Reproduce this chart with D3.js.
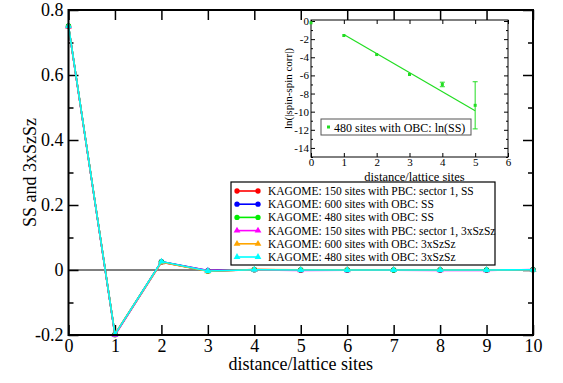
<!DOCTYPE html>
<html>
<head>
<meta charset="utf-8">
<script src="https://cdn.jsdelivr.net/npm/d3@7"></script>
<style>
  body { margin: 0; background: #fff; }
  svg text { font-family: "Liberation Serif", "DejaVu Serif", serif; fill: #000; }
</style>
</head>
<body>
<svg id="chart" width="563" height="383"></svg>
<script>
// distances
const distances = [0, 1, 2, 3, 4, 5, 6, 7, 8, 9, 10];

// correlation values per series
const pbc150SS    = [0.750, -0.199, 0.025, -0.003, 0.0010, -0.0004, 0.0003, -0.0002, 0.0002, -0.0001, 0.0010];
const obc600SS    = [0.750, -0.198, 0.026, -0.002, 0.0009, 0.0002, -0.0001, 0.0001, 0.0000, 0.0000, 0.0010];
const obc480SS    = [0.751, -0.199, 0.025, -0.003, 0.0009, 0.0002, 0.0001, 0.0000, 0.0001, 0.0000, 0.0010];
const pbc150SzSz  = [0.749, -0.200, 0.024, -0.002, 0.0000, -0.0012, -0.0008, -0.0003, -0.0010, -0.0012, 0.0012];
const obc600SzSz  = [0.750, -0.197, 0.024, -0.004, 0.0012, 0.0010, 0.0004, 0.0002, 0.0003, 0.0000, 0.0008];
const obc480SzSz  = [0.751, -0.198, 0.026, -0.003, 0.0009, 0.0002, 0.0001, 0.0000, 0.0001, 0.0000, 0.0010];

const seriesNames = [
  "KAGOME: 150 sites with PBC: sector 1, SS",
  "KAGOME: 600 sites with OBC: SS",
  "KAGOME: 480 sites with OBC: SS",
  "KAGOME: 150 sites with PBC: sector 1, 3xSzSz",
  "KAGOME: 600 sites with OBC: 3xSzSz",
  "KAGOME: 480 sites with OBC: 3xSzSz"
];
const seriesValues = [pbc150SS, obc600SS, obc480SS, pbc150SzSz, obc600SzSz, obc480SzSz];
const seriesColors = ["#ff0000", "#0000ff", "#00ee00", "#ff00ff", "#ffa500", "#00ffff"];
const seriesSymbols = ["circle", "circle", "circle", "triangle", "triangle", "triangle"];

const yTicks = [-0.2, 0, 0.2, 0.4, 0.6, 0.8];
const yMinorTicks = [-0.1, 0.1, 0.3, 0.5, 0.7];

// inset: ln(SS) for 480 sites OBC
const insetDist = [0, 1, 2, 3, 4, 5];
const insetLn   = [-0.2, -1.6, -3.7, -5.9, -7.0, -9.3];
const insetErr  = [0, 0, 0, 0, 0.25, 2.6];
const fitDist   = [1, 5];
const fitLn     = [-1.5, -9.9];
const insetXTicks = [0, 1, 2, 3, 4, 5, 6];
const insetYTicks = [0, -2, -4, -6, -8, -10, -12, -14];
const insetYMinor = [-1, -3, -5, -7, -9, -11, -13, -15];

const serif = '"Liberation Serif", "DejaVu Serif", serif';
const svg = d3.select("#chart");

const x = d3.scaleLinear().domain([0, 10]).range([68.5, 533]);
const y = d3.scaleLinear().domain([-0.2, 0.8]).range([335, 10]);

const fmt = d => d === 0 ? "0" : d3.format(".1f")(d).replace("\u2212", "-");

function styleAxis(g, size) {
  g.attr("font-family", serif);
  g.select(".domain").remove();
  g.selectAll("line").attr("stroke", "#000").attr("stroke-width", 1.5);
  g.selectAll("text").style("font-size", size).style("font-family", serif).attr("fill", "#000");
}

// main axes
svg.append("g").attr("transform", "translate(0,335)")
  .call(d3.axisBottom(x).tickValues(distances).tickSize(-10).tickPadding(4).tickFormat(d3.format("d")))
  .call(g => styleAxis(g, "18px"));
svg.append("g").attr("transform", "translate(0,10)")
  .call(d3.axisTop(x).tickValues(distances).tickSize(-10).tickFormat(""))
  .call(g => styleAxis(g, "18px"));
svg.append("g").attr("transform", "translate(68.5,0)")
  .call(d3.axisLeft(y).tickValues(yTicks).tickSize(-10).tickPadding(5).tickFormat(fmt))
  .call(g => styleAxis(g, "18px"));
svg.append("g").attr("transform", "translate(68.5,0)")
  .call(d3.axisLeft(y).tickValues(yMinorTicks).tickSize(-5).tickFormat(""))
  .call(g => styleAxis(g, "18px"));
svg.append("g").attr("transform", "translate(533,0)")
  .call(d3.axisRight(y).tickValues(yTicks).tickSize(-10).tickFormat(""))
  .call(g => styleAxis(g, "18px"));
svg.append("g").attr("transform", "translate(533,0)")
  .call(d3.axisRight(y).tickValues(yMinorTicks).tickSize(-5).tickFormat(""))
  .call(g => styleAxis(g, "18px"));

// zero line
svg.append("line")
  .attr("x1", x(0)).attr("x2", x(10))
  .attr("y1", y(0)).attr("y2", y(0))
  .attr("stroke", "#000").attr("stroke-width", 1);

const line = d3.line().x(d => x(d[0])).y(d => y(d[1]));
const tri = d3.symbol().type(d3.symbolTriangle).size(20);
const circ = d3.symbol().type(d3.symbolCircle).size(22);

seriesValues.forEach((vals, i) => {
  const pts = distances.map((d, k) => [d, vals[k]]);
  svg.append("path").datum(pts)
    .attr("fill", "none")
    .attr("stroke", seriesColors[i])
    .attr("stroke-width", 1.6)
    .attr("d", line);
  svg.append("g").selectAll("path").data(pts).enter().append("path")
    .attr("transform", d => `translate(${x(d[0])},${y(d[1])})`)
    .attr("d", seriesSymbols[i] === "circle" ? circ : tri)
    .attr("fill", seriesColors[i]);
});

// main frame
svg.append("rect")
  .attr("x", x(0)).attr("y", y(0.8))
  .attr("width", x(10) - x(0)).attr("height", y(-0.2) - y(0.8))
  .attr("fill", "none").attr("stroke", "#000").attr("stroke-width", 2);

// axis titles
svg.append("text")
  .attr("x", (x(0) + x(10)) / 2).attr("y", 370)
  .attr("text-anchor", "middle").style("font-size", "18px")
  .text("distance/lattice sites");
svg.append("text")
  .attr("transform", `translate(36,${(y(0.8) + y(-0.2)) / 2}) rotate(-90)`)
  .attr("text-anchor", "middle").style("font-size", "18px")
  .text("SS and 3xSzSz");

// main legend
const leg = svg.append("g");
leg.append("rect")
  .attr("x", 231).attr("y", 182).attr("width", 264).attr("height", 83)
  .attr("fill", "#fff").attr("stroke", "#000").attr("stroke-width", 1.2);
seriesNames.forEach((name, i) => {
  const ly = 191 + i * 13.2;
  leg.append("line")
    .attr("x1", 237).attr("x2", 258).attr("y1", ly).attr("y2", ly)
    .attr("stroke", seriesColors[i]).attr("stroke-width", 1.6);
  [237, 258].forEach(lx => {
    leg.append("path")
      .attr("transform", `translate(${lx},${ly})`)
      .attr("d", seriesSymbols[i] === "circle" ? circ : tri)
      .attr("fill", seriesColors[i]);
  });
  leg.append("text")
    .attr("x", 268).attr("y", ly + 4)
    .style("font-size", "11.5px")
    .text(name);
});

// inset
const ix = d3.scaleLinear().domain([0, 6]).range([311, 508]);
const iy = d3.scaleLinear().domain([-15, 0]).range([157, 21]);
const inset = svg.append("g");

inset.append("rect")
  .attr("x", ix(0)).attr("y", 20)
  .attr("width", ix(6) - ix(0)).attr("height", 137)
  .attr("fill", "#fff");

inset.append("g").attr("transform", "translate(0,157)")
  .call(d3.axisBottom(ix).tickValues(insetXTicks).tickSize(-4).tickPadding(1).tickFormat(d3.format("d")))
  .call(g => styleAxis(g, "11px"));
inset.append("g").attr("transform", "translate(0,20)")
  .call(d3.axisTop(ix).tickValues(insetXTicks).tickSize(-4).tickFormat(""))
  .call(g => styleAxis(g, "11px"));
inset.append("g").attr("transform", `translate(${ix(0)},0)`)
  .call(d3.axisLeft(iy).tickValues(insetYTicks).tickSize(-4).tickPadding(2).tickFormat(d => String(d)))
  .call(g => styleAxis(g, "11px"));
inset.append("g").attr("transform", `translate(${ix(0)},0)`)
  .call(d3.axisLeft(iy).tickValues(insetYMinor).tickSize(-2).tickFormat(""))
  .call(g => styleAxis(g, "11px"));
inset.append("g").attr("transform", `translate(${ix(6)},0)`)
  .call(d3.axisRight(iy).tickValues(insetYTicks).tickSize(-4).tickFormat(""))
  .call(g => styleAxis(g, "11px"));
inset.append("g").attr("transform", `translate(${ix(6)},0)`)
  .call(d3.axisRight(iy).tickValues(insetYMinor).tickSize(-2).tickFormat(""))
  .call(g => styleAxis(g, "11px"));
inset.selectAll("line").attr("stroke-width", 1);

inset.append("rect")
  .attr("x", ix(0)).attr("y", 20)
  .attr("width", ix(6) - ix(0)).attr("height", 137)
  .attr("fill", "none").attr("stroke", "#000").attr("stroke-width", 1);

const green = "#22dd22";
inset.append("path")
  .datum(fitDist.map((d, k) => [d, fitLn[k]]))
  .attr("fill", "none").attr("stroke", green).attr("stroke-width", 1.2)
  .attr("d", d3.line().x(d => ix(d[0])).y(d => iy(d[1])));

insetDist.forEach((d, k) => {
  const cx = ix(d), cy = iy(insetLn[k]);
  if (insetErr[k] > 0) {
    const top = iy(insetLn[k] + insetErr[k]), bot = iy(insetLn[k] - insetErr[k]);
    inset.append("line").attr("x1", cx).attr("x2", cx).attr("y1", top).attr("y2", bot)
      .attr("stroke", green).attr("stroke-width", 1);
    [top, bot].forEach(yy => inset.append("line")
      .attr("x1", cx - 2.5).attr("x2", cx + 2.5).attr("y1", yy).attr("y2", yy)
      .attr("stroke", green).attr("stroke-width", 1));
  }
  inset.append("rect")
    .attr("x", cx - 1.5).attr("y", cy - 1.5).attr("width", 3).attr("height", 3)
    .attr("fill", green);
});

inset.append("text")
  .attr("x", (ix(0) + ix(6)) / 2 + 5).attr("y", 181)
  .attr("text-anchor", "middle").style("font-size", "12.5px")
  .text("distance/lattice sites");
inset.append("text")
  .attr("transform", `translate(292,${(20 + 157) / 2}) rotate(-90)`)
  .attr("text-anchor", "middle").style("font-size", "11px")
  .text("ln(|spin-spin corr|)");

inset.append("rect")
  .attr("x", 321).attr("y", 119).attr("width", 150).attr("height", 16)
  .attr("fill", "#fff").attr("stroke", "#555").attr("stroke-width", 1);
inset.append("rect")
  .attr("x", 327).attr("y", 125.5).attr("width", 3).attr("height", 3).attr("fill", green);
inset.append("text")
  .attr("x", 334).attr("y", 131.5).style("font-size", "12px")
  .text("480 sites with OBC: ln(SS)");
</script>
</body>
</html>
